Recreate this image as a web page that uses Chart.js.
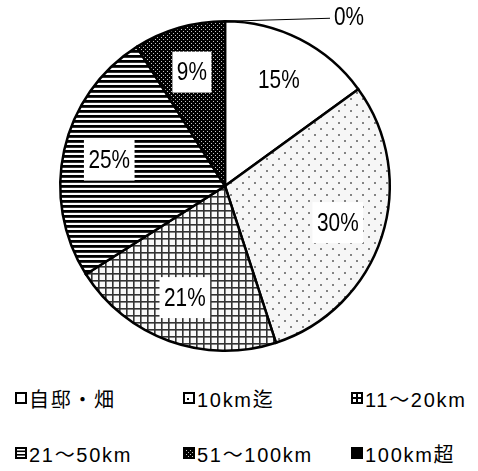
<!DOCTYPE html>
<html>
<head>
<meta charset="utf-8">
<script src="https://cdn.jsdelivr.net/npm/chart.js@4"></script>
<style>
  html, body { margin: 0; padding: 0; background: #fff; }
  #wrap { position: relative; width: 478px; height: 471px; overflow: hidden; }
  #chartBox { position: absolute; left: 0; top: 0; width: 478px; height: 371px; }
  .item { position: absolute; height: 22px; display: flex; align-items: center;
          font-family: "Liberation Sans", "Noto Sans CJK JP", sans-serif; font-size: 20px;
          letter-spacing: 1.7px; color: #000; white-space: nowrap; }
  .item canvas { margin-right: 2px; }
</style>
</head>
<body>
<div id="wrap">
  <div id="chartBox"><canvas id="pie"></canvas></div>
  <div id="legend"></div>
</div>
<script>
// Distance to work, share of respondents (%)
const categories = ["自邸・畑", "10km迄", "11〜20km", "21〜50km", "51〜100km", "100km超"];
const shares = [15, 30, 21, 25, 9, 0];
const shareLabels = ["15%", "30%", "21%", "25%", "9%", "0%"];

// --- fill patterns -------------------------------------------------------
function tile(w, h, paint) {
  const c = document.createElement("canvas");
  c.width = w; c.height = h;
  paint(c.getContext("2d"));
  return c;
}
const tiles = [
  // plain white
  tile(4, 4, g => { g.fillStyle = "#fff"; g.fillRect(0, 0, 4, 4); }),
  // sparse staggered dots
  tile(12, 12, g => {
    g.fillStyle = "#f6f6f6"; g.fillRect(0, 0, 12, 12);
    g.fillStyle = "#999"; g.fillRect(2, 2, 2, 2); g.fillRect(8, 8, 2, 2);
    g.fillStyle = "#444"; g.fillRect(2.5, 2.5, 1, 1); g.fillRect(8.5, 8.5, 1, 1);
  }),
  // square grid
  tile(7, 7, g => {
    g.fillStyle = "#f9f9f9"; g.fillRect(0, 0, 7, 7);
    g.fillStyle = "#333"; g.fillRect(0, 0, 7, 1.6); g.fillRect(0, 0, 1.6, 7);
  }),
  // horizontal stripes
  tile(5, 5, g => {
    g.fillStyle = "#fff"; g.fillRect(0, 0, 5, 5);
    g.fillStyle = "#000"; g.fillRect(0, 0, 5, 2.8);
  }),
  // dense light dots on black
  tile(4, 4, g => {
    g.fillStyle = "#000"; g.fillRect(0, 0, 4, 4);
    g.fillStyle = "#c4c4c4"; g.fillRect(1, 1, 1, 1); g.fillRect(3, 3, 1, 1);
  }),
  // solid black
  tile(4, 4, g => { g.fillStyle = "#000"; g.fillRect(0, 0, 4, 4); })
];
const ctx = document.getElementById("pie").getContext("2d");
const fills = tiles.map(t => ctx.createPattern(t, "repeat"));

// --- value labels on white boxes ------------------------------------------
const labelFont = '26px "Liberation Sans", sans-serif';
const squeeze = 0.8;   // narrow the label glyphs horizontally

function narrowText(g, text, x, y, align) {
  g.save();
  g.translate(x, y);
  g.scale(squeeze, 1);
  g.textAlign = align;
  g.fillText(text, 0, 0);
  g.restore();
}

const sliceLabels = {
  id: "sliceLabels",
  afterDatasetsDraw(chart) {
    const g = chart.ctx;
    const arcs = chart.getDatasetMeta(0).data;
    g.save();
    g.font = labelFont;
    g.textBaseline = "middle";
    arcs.forEach((arc, i) => {
      const p = arc.getProps(["x", "y", "startAngle", "endAngle", "outerRadius"], true);
      const text = shareLabels[i];
      if (shares[i] === 0) {
        // zero share: leader line from the rim out to the right
        const sx = p.x + Math.cos(p.startAngle) * p.outerRadius;
        const sy = p.y + Math.sin(p.startAngle) * p.outerRadius;
        const ex = sx + 105, ey = sy - 3;
        g.strokeStyle = "#000"; g.lineWidth = 1;
        g.beginPath(); g.moveTo(sx, sy); g.lineTo(ex, ey); g.stroke();
        g.fillStyle = "#000";
        narrowText(g, text, ex + 4, ey, "left");
        return;
      }
      const mid = (p.startAngle + p.endAngle) / 2;
      const r = p.outerRadius * 0.72;
      const cx = p.x + Math.cos(mid) * r;
      const cy = p.y + Math.sin(mid) * r;
      const w = g.measureText(text).width * squeeze + 9;
      const h = 41;
      if (i !== 0) {
        g.fillStyle = "#fff";
        g.fillRect(cx - w / 2, cy - h / 2, w, h);
      }
      g.fillStyle = "#000";
      narrowText(g, text, cx, cy + 1, "center");
    });
    g.restore();
  }
};

new Chart(ctx, {
  type: "pie",
  data: {
    labels: categories,
    datasets: [{
      data: shares,
      backgroundColor: fills,
      borderColor: "#000",
      borderWidth: 2.5,
      borderJoinStyle: "miter"
    }]
  },
  options: {
    responsive: true,
    maintainAspectRatio: false,
    animation: false,
    layout: { padding: { left: 59, right: 87, top: 20, bottom: 19 } },
    plugins: { legend: { display: false }, tooltip: { enabled: false } }
  },
  plugins: [sliceLabels]
});

// --- legend ----------------------------------------------------------------
const swatchPainters = [
  g => { g.fillStyle = "#fff"; g.fillRect(0, 0, 12, 12); },
  g => { g.fillStyle = "#fff"; g.fillRect(0, 0, 12, 12); g.fillStyle = "#000"; g.fillRect(4, 6, 2, 2); },
  g => { g.fillStyle = "#fff"; g.fillRect(0, 0, 12, 12); g.fillStyle = "#000"; g.fillRect(5, 0, 2, 12); g.fillRect(0, 5, 12, 2); },
  g => { g.fillStyle = "#fff"; g.fillRect(0, 0, 12, 12); g.fillStyle = "#000"; g.fillRect(0, 3.5, 12, 1.6); g.fillRect(0, 7, 12, 1.6); },
  g => { g.fillStyle = fills[4]; g.fillRect(0, 0, 12, 12); },
  g => { g.fillStyle = "#000"; g.fillRect(0, 0, 12, 12); }
];
const colX = [15, 183, 351];
const rowY = [387, 442];
const legend = document.getElementById("legend");
categories.forEach((name, i) => {
  const item = document.createElement("div");
  item.className = "item";
  item.style.left = colX[i % 3] + "px";
  item.style.top = rowY[Math.floor(i / 3)] + "px";
  const sw = document.createElement("canvas");
  sw.width = 12; sw.height = 12;
  const g = sw.getContext("2d");
  swatchPainters[i](g);
  g.strokeStyle = "#000"; g.lineWidth = 2; g.strokeRect(1, 1, 10, 10);
  item.appendChild(sw);
  const span = document.createElement("span");
  span.textContent = name;
  item.appendChild(span);
  legend.appendChild(item);
});
</script>
</body>
</html>
